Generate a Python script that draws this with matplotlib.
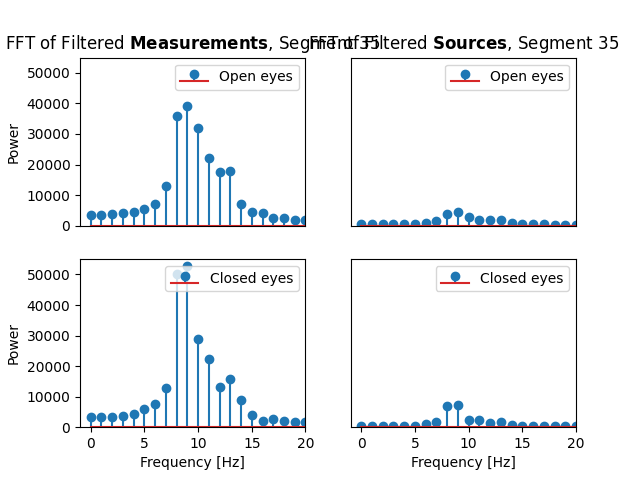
import matplotlib
matplotlib.use("Agg")
import matplotlib.pyplot as plt

freqs = list(range(21))

meas_open = [3500, 3500, 3800, 4200, 4400, 5400, 7200, 13000, 35800, 39000, 32000,
             22200, 17600, 18000, 7200, 4400, 4000, 2500, 2500, 1900, 1900]
meas_closed = [3200, 3200, 3500, 3800, 4300, 5800, 7700, 12900, 50300, 52700, 28800,
               22200, 13300, 15900, 8800, 4100, 2100, 2600, 2000, 1700, 1700]
src_open = [400, 400, 400, 400, 400, 400, 800, 1400, 3900, 4500, 2800,
            1700, 1800, 1800, 700, 450, 400, 400, 350, 350, 350]
src_closed = [400, 400, 500, 500, 500, 500, 950, 1600, 6800, 7400, 2200,
              2200, 1300, 1600, 850, 450, 400, 400, 300, 300, 300]

fig, axes = plt.subplots(2, 2, figsize=(6.4, 4.8), dpi=100)

panels = [
    (axes[0, 0], meas_open, "Open eyes"),
    (axes[1, 0], meas_closed, "Closed eyes"),
    (axes[0, 1], src_open, "Open eyes"),
    (axes[1, 1], src_closed, "Closed eyes"),
]
for ax, vals, lab in panels:
    ax.stem(freqs, vals, label=lab)
    ax.set_xlim(-1, 20)
    ax.set_ylim(0, 55000)
    ax.legend(loc="upper right")

axes[0, 0].set_title(r"FFT of Filtered $\bf{Measurements}$, Segment 35")
axes[0, 1].set_title(r"FFT of Filtered $\bf{Sources}$, Segment 35")

for ax in axes[0]:
    ax.set_xticks([])
for ax in axes[:, 1]:
    ax.set_yticks([])
for ax in axes[:, 0]:
    ax.set_ylabel("Power")
for ax in axes[1]:
    ax.set_xlabel("Frequency [Hz]")

plt.savefig("out.png")
